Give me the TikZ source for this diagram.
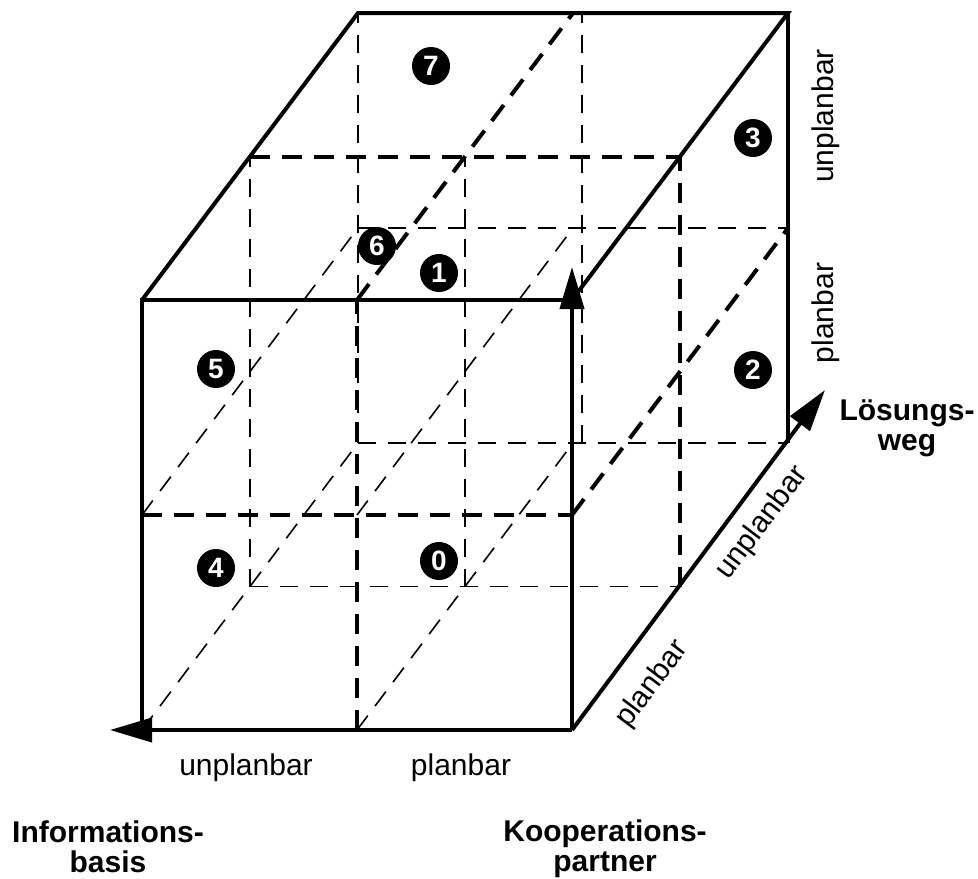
\documentclass[tikz,border=0pt]{standalone}
\usepackage{fontspec}
\setmainfont{Liberation Sans}
\usetikzlibrary{arrows.meta, positioning}
\tikzstyle{edge} = [line width=2pt, black]
\tikzstyle{axis} = [line width=2pt, black, -{Triangle[length=21pt, width=12pt]}]
\tikzstyle{midline} = [line width=2pt, black, dash pattern=on 10pt off 6pt]
\tikzstyle{hidden} = [line width=0.8pt, black, dash pattern=on 9pt off 6pt]
\tikzstyle{cell} = [circle, fill=black, text=white, inner sep=0pt, minimum size=19pt, font=\bfseries\fontsize{14}{14}\selectfont]
\tikzstyle{grade} = [inner sep=0pt, font=\fontsize{15}{15}\selectfont]
\tikzstyle{axisname} = [inner sep=0pt, align=center, font=\bfseries\fontsize{15}{15}\selectfont]

\begin{document}
\begin{tikzpicture}[x=0.5pt, y=-0.5pt]

	\useasboundingbox (0,0) rectangle (978,878);

	% Cube corners (X, Y, Z) -> f = front, m = middle, b = back
	\begin{scope}[shift={(142,730)}, x={(107.5pt,0pt)}, y={(0pt,107.5pt)}, z={(54pt,71.75pt)}]
		\coordinate (f00) at (0,0,0);
		\coordinate (f10) at (1,0,0);
		\coordinate (f20) at (2,0,0);
		\coordinate (f01) at (0,1,0);
		\coordinate (f11) at (1,1,0);
		\coordinate (f21) at (2,1,0);
		\coordinate (f02) at (0,2,0);
		\coordinate (f12) at (1,2,0);
		\coordinate (f22) at (2,2,0);

		\coordinate (m00) at (0,0,1);
		\coordinate (m10) at (1,0,1);
		\coordinate (m20) at (2,0,1);
		\coordinate (m02) at (0,2,1);
		\coordinate (m12) at (1,2,1);
		\coordinate (m22) at (2,2,1);

		\coordinate (b00) at (0,0,2);
		\coordinate (b10) at (1,0,2);
		\coordinate (b20) at (2,0,2);
		\coordinate (b01) at (0,1,2);
		\coordinate (b21) at (2,1,2);
		\coordinate (b02) at (0,2,2);
		\coordinate (b12) at (1,2,2);
		\coordinate (b22) at (2,2,2);
	\end{scope}

	% Axis tips
	\coordinate (info_tip) at (110,730);
	\coordinate (koop_tip) at (572,267);
	\coordinate (loes_tip) at (825,390);

	% Hidden lines
	\draw[hidden] (m00) -- (m20);
	\draw[hidden] (m00) -- (m02);
	\draw[hidden] (m10) -- (m12);
	\draw[hidden] (b00) -- (b20);
	\draw[hidden] (b01) -- (b21);
	\draw[hidden] (b00) -- (b02);
	\draw[hidden] ([xshift=4.5pt]b10) -- ([xshift=4.5pt]b12);
	\draw[hidden] (f00) -- (b00);
	\draw[hidden] (f10) -- (b10);
	\draw[hidden] (f01) -- (b01);
	\draw[hidden] (f11) -- (b01 -| b12);

	% Middle lines on the faces
	\draw[midline] (f01) -- (f21);
	\draw[midline] (f10) -- (f12);
	\draw[midline] (m02) -- (m22);
	\draw[midline] (f12) -- (b12);
	\draw[midline] (m20) -- (m22);
	\draw[midline] (f21) -- (b21);

	% Edges
	\draw[edge] (f20) -- (f22) -- (f02) -- (f00) -- (f20);
	\draw[edge] (f02) -- (b02) -- (b22) -- (f22);
	\draw[edge] (b22) -- (b20);

	% Axes
	\draw[axis] (f20) -- (info_tip);
	\draw[axis] (f20) -- (koop_tip);
	\draw[axis] (f20) -- (loes_tip);

	% Cells
	\node[cell] (cell0) at (439,561) {0};
	\node[cell] (cell1) at (439,273) {1};
	\node[cell] (cell2) at (753,370) {2};
	\node[cell] (cell3) at (753,138) {3};
	\node[cell] (cell4) at (216,568) {4};
	\node[cell] (cell5) at (216,369) {5};
	\node[cell] (cell6) at (377,246) {6};
	\node[cell] (cell7) at (431,66) {7};

	% Grades
	\node[grade, anchor=base] (info_unplan) at (246,775) {unplanbar};
	\node[grade, anchor=base] (info_plan) at (461,775) {planbar};
	\node[grade, rotate=53] (loes_plan) at (652,684) {planbar};
	\node[grade, rotate=53] (loes_unplan) at (762,523) {unplanbar};
	\node[grade, rotate=90] (koop_plan) at (826,313) {planbar};
	\node[grade, rotate=90] (koop_unplan) at (826,116) {unplanbar};

	% Axis names
	\node[axisname] (info) at (108,847) {Informations-\\basis};
	\node[axisname] (koop) at (605,849) {Kooperations-\\partner};
	\node[axisname] (loes) at (907,428) {Lösungs-\\weg};

\end{tikzpicture}
\end{document}
